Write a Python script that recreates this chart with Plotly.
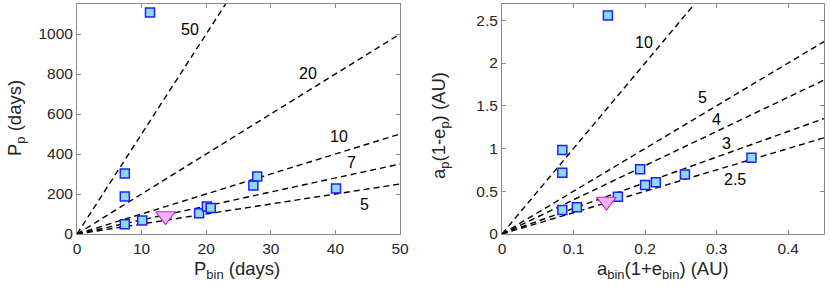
import plotly.graph_objects as go

# ---- Left panel data: periods ----
p_bin = [11.3, 7.4, 7.4, 7.4, 10.1, 18.9, 20.1, 20.7, 27.3, 27.9, 40.1]
p_p = [1108, 303, 187, 49, 67, 104, 137, 130, 242, 288, 228]
tri_p_bin = [13.7]
tri_p_p = [90]
ratio_left = [50, 20, 10, 7, 5]
ratio_left_label_x = [17.5, 35.8, 40.6, 42.5, 44.5]
ratio_left_label_y = [1020, 800, 490, 358, 150]

# ---- Right panel data: apocentre / pericentre distances ----
a_bin_apo = [0.148, 0.0843, 0.0843, 0.0843, 0.1046, 0.162, 0.193, 0.200, 0.215, 0.2556, 0.3486]
a_p_peri = [2.555, 0.981, 0.716, 0.280, 0.312, 0.436, 0.756, 0.572, 0.604, 0.697, 0.892]
tri_a_bin = [0.146]
tri_a_p = [0.38]
ratio_right = [10, 5, 4, 3, 2.5]
ratio_right_label_x = [0.1986, 0.280, 0.2995, 0.314, 0.326]
ratio_right_label_y = [2.24, 1.60, 1.343, 1.06, 0.643]

XMAX_L, YMAX_L = 50, 1150
XMAX_R, YMAX_R = 0.45, 2.69

SQ_FILL = "#8fd9f8"
SQ_EDGE = "#1f1fff"
TRI_FILL = "#ebb5f5"
TRI_EDGE = "#cc22cc"
FONT = "Liberation Sans, Arial, Helvetica, sans-serif"
TICKC = "#262626"
FRAME = "#8a8a8a"

fig = go.Figure()

def add_ratio_lines(ratios, xmax, ymax, xa, ya):
    for k in ratios:
        xe = min(xmax, ymax / k)
        fig.add_trace(go.Scatter(
            x=[0, xe], y=[0, k * xe], mode="lines",
            line=dict(color="black", width=1.4, dash="6px,4px"),
            xaxis=xa, yaxis=ya, showlegend=False, hoverinfo="skip"))

add_ratio_lines(ratio_left, XMAX_L, YMAX_L, "x", "y")
add_ratio_lines(ratio_right, XMAX_R, YMAX_R, "x2", "y2")

def add_points(xs, ys, txs, tys, xa, ya):
    fig.add_trace(go.Scatter(
        x=xs, y=ys, mode="markers",
        marker=dict(symbol="square", size=9, color=SQ_FILL,
                    line=dict(color=SQ_EDGE, width=1.5)),
        xaxis=xa, yaxis=ya, showlegend=False, cliponaxis=False))
    fig.add_trace(go.Scatter(
        x=txs, y=tys, mode="markers",
        marker=dict(symbol="triangle-down", size=17, color=TRI_FILL,
                    line=dict(color=TRI_EDGE, width=1.2)),
        xaxis=xa, yaxis=ya, showlegend=False))

add_points(p_bin, p_p, tri_p_bin, tri_p_p, "x", "y")
add_points(a_bin_apo, a_p_peri, tri_a_bin, tri_a_p, "x2", "y2")

annotations = []
for k, lx, ly in zip(ratio_left, ratio_left_label_x, ratio_left_label_y):
    annotations.append(dict(x=lx, y=ly, xref="x", yref="y", text=str(k),
                            xanchor="center", yanchor="middle",
                            showarrow=False, font=dict(size=16, color="black", family=FONT)))
for k, lx, ly in zip(ratio_right, ratio_right_label_x, ratio_right_label_y):
    annotations.append(dict(x=lx, y=ly, xref="x2", yref="y2", text=str(k),
                            xanchor="center", yanchor="middle",
                            showarrow=False, font=dict(size=16, color="black", family=FONT)))

W, H = 830, 291
title_font = dict(size=18.5, color=TICKC, family=FONT)
for tx, ty, txt, ang in [
    (237, 270, "P<sub>bin</sub> (days)", 0),
    (16, 118, "P<sub>p</sub> (days)", -90),
    (663, 270, "a<sub>bin</sub>(1+e<sub>bin</sub>) (AU)", 0),
    (440, 126, "a<sub>p</sub>(1-e<sub>p</sub>) (AU)", -90),
]:
    annotations.append(dict(x=tx / W, y=1 - ty / H, xref="paper", yref="paper", text=txt,
                            xanchor="center", yanchor="middle", showarrow=False,
                            font=title_font, textangle=ang))

axis_common = dict(showgrid=False, zeroline=False, showline=True, mirror="ticks",
                   linecolor=FRAME, linewidth=1, ticks="inside", ticklen=4,
                   tickcolor=FRAME, tickfont=dict(size=15.5, color=TICKC, family=FONT),
                   automargin=False)

fig.update_layout(
    width=W, height=H, margin=dict(l=0, r=0, t=0, b=0),
    paper_bgcolor="white", plot_bgcolor="white",
    xaxis=dict(domain=[77 / W, 400 / W], range=[0, XMAX_L], tickvals=[0, 10, 20, 30, 40, 50], **axis_common),
    yaxis=dict(domain=[1 - 234 / H, 1 - 4 / H], range=[0, YMAX_L], tickvals=[0, 200, 400, 600, 800, 1000], **axis_common),
    xaxis2=dict(domain=[502 / W, 824 / W], range=[0, XMAX_R], tickvals=[0, 0.1, 0.2, 0.3, 0.4], anchor="y2", **axis_common),
    yaxis2=dict(domain=[1 - 234 / H, 1 - 4 / H], range=[0, YMAX_R], tickvals=[0, 0.5, 1, 1.5, 2, 2.5],
                ticktext=["0", "0.5", "1", "1.5", "2", "2.5"], anchor="x2", **axis_common),
    annotations=annotations,
)

fig.write_html("out.html", config={"displayModeBar": False},
               post_script="document.body.style.margin='0';document.body.style.overflow='hidden';")
